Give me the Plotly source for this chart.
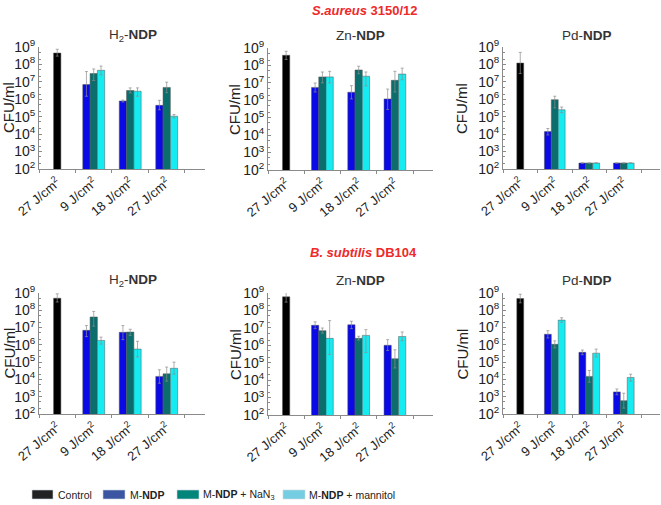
import plotly.graph_objects as go

# ---------------- data ----------------
groups = ["27 J/cm<sup>2</sup>", "9 J/cm<sup>2</sup>", "18 J/cm<sup>2</sup>", "27 J/cm<sup>2</sup>"]
panel_titles = ["H<sub>2</sub>-<b>NDP</b>", "Zn-<b>NDP</b>", "Pd-<b>NDP</b>",
                "H<sub>2</sub>-<b>NDP</b>", "Zn-<b>NDP</b>", "Pd-<b>NDP</b>"]
series_names = ["Control", "M-<b>NDP</b>", "M-<b>NDP</b> + NaN<sub>3</sub>", "M-<b>NDP</b> + mannitol"]
y_title = "CFU/ml"

# S. aureus 3150/12
sa_h2_control = [4.5e8]; sa_h2_control_hi = [7.4e8]; sa_h2_control_lo = [3.0e8]
sa_h2_m = [7e6, 8e5, 4.5e5];   sa_h2_m_hi = [3.9e7, 9e5, 8.7e5];  sa_h2_m_lo = [1.5e6, 7e5, 2.5e5]
sa_h2_na = [3e7, 3.2e6, 4.8e6]; sa_h2_na_hi = [5.5e7, 4.5e6, 9.6e6]; sa_h2_na_lo = [1.2e7, 2.3e6, 2.4e6]
sa_h2_ma = [4.6e7, 2.9e6, 1.07e5]; sa_h2_ma_hi = [8e7, 4.5e6, 1.35e5]; sa_h2_ma_lo = [2.5e7, 1.5e6, 8.5e4]

sa_zn_control = [3.8e8]; sa_zn_control_hi = [6.5e8]; sa_zn_control_lo = [2.2e8]
sa_zn_m = [5.5e6, 2.9e6, 1.2e6];  sa_zn_m_hi = [9.8e6, 6.9e6, 4.4e6];  sa_zn_m_lo = [3e6, 1.2e6, 3e5]
sa_zn_na = [2.2e7, 5.5e7, 1.4e7]; sa_zn_na_hi = [4.2e7, 9e7, 4.6e7]; sa_zn_na_lo = [1e7, 3.3e7, 3e6]
sa_zn_ma = [2.2e7, 2.4e7, 3.2e7]; sa_zn_ma_hi = [4.6e7, 4.2e7, 7e7]; sa_zn_ma_lo = [1e7, 6.6e6, 1.5e7]

sa_pd_control = [1.2e8]; sa_pd_control_hi = [4.9e8]; sa_pd_control_lo = [3e7]
sa_pd_m = [1.4e4, 220, 220];    sa_pd_m_hi = [2.1e4, 220, 220];    sa_pd_m_lo = [9e3, 220, 220]
sa_pd_na = [9.5e5, 220, 220];   sa_pd_na_hi = [1.5e6, 220, 220];   sa_pd_na_lo = [3.2e5, 220, 220]
sa_pd_ma = [2.5e5, 220, 220];   sa_pd_ma_hi = [3.6e5, 220, 220];   sa_pd_ma_lo = [1.7e5, 220, 220]

# B. subtilis DB104
bs_h2_control = [5e8]; bs_h2_control_hi = [8.9e8]; bs_h2_control_lo = [3e8]
bs_h2_m = [6.9e6, 5.3e6, 1.5e4];  bs_h2_m_hi = [1.3e7, 1.3e7, 3.6e4];  bs_h2_m_lo = [3e6, 2e6, 6e3]
bs_h2_na = [4.1e7, 5.5e6, 2.1e4]; bs_h2_na_hi = [8.6e7, 8e6, 5.2e4]; bs_h2_na_lo = [1.2e7, 3.5e6, 8e3]
bs_h2_ma = [1.8e6, 5.7e5, 4.4e4]; bs_h2_ma_hi = [2.8e6, 1.6e6, 1e5]; bs_h2_ma_lo = [1.1e6, 2e5, 2e4]

bs_zn_control = [6e8]; bs_zn_control_hi = [1.1e9]; bs_zn_control_lo = [3e8]
bs_zn_m = [1.4e7, 1.5e7, 1e6];    bs_zn_m_hi = [2.2e7, 2.4e7, 2.1e6];    bs_zn_m_lo = [9e6, 9e6, 5e5]
bs_zn_na = [6.9e6, 2.5e6, 1.7e5]; bs_zn_na_hi = [9.8e6, 3.3e6, 5.5e5]; bs_zn_na_lo = [5e6, 2e6, 5e4]
bs_zn_ma = [2.5e6, 3.7e6, 3.2e6]; bs_zn_ma_hi = [2.6e7, 7.9e6, 5.8e6]; bs_zn_ma_lo = [3e5, 3.9e5, 1.8e6]

bs_pd_control = [4.8e8]; bs_pd_control_hi = [8.5e8]; bs_pd_control_lo = [2.7e8]
bs_pd_m = [4.1e6, 3.7e5, 1.9e3];  bs_pd_m_hi = [6.6e6, 5e5, 2.8e3];  bs_pd_m_lo = [2.5e6, 2.7e5, 1.3e3]
bs_pd_na = [1.07e6, 1.5e4, 590];  bs_pd_na_hi = [1.7e6, 3.3e4, 1.6e3]; bs_pd_na_lo = [6.7e5, 7e3, 220]
bs_pd_ma = [2.7e7, 3.3e5, 1.3e4]; bs_pd_ma_hi = [3.7e7, 5.7e5, 2e4]; bs_pd_ma_lo = [2e7, 2e5, 8e3]

panels = [
    (sa_h2_control, sa_h2_control_hi, sa_h2_control_lo, [(sa_h2_m, sa_h2_m_hi, sa_h2_m_lo), (sa_h2_na, sa_h2_na_hi, sa_h2_na_lo), (sa_h2_ma, sa_h2_ma_hi, sa_h2_ma_lo)]),
    (sa_zn_control, sa_zn_control_hi, sa_zn_control_lo, [(sa_zn_m, sa_zn_m_hi, sa_zn_m_lo), (sa_zn_na, sa_zn_na_hi, sa_zn_na_lo), (sa_zn_ma, sa_zn_ma_hi, sa_zn_ma_lo)]),
    (sa_pd_control, sa_pd_control_hi, sa_pd_control_lo, [(sa_pd_m, sa_pd_m_hi, sa_pd_m_lo), (sa_pd_na, sa_pd_na_hi, sa_pd_na_lo), (sa_pd_ma, sa_pd_ma_hi, sa_pd_ma_lo)]),
    (bs_h2_control, bs_h2_control_hi, bs_h2_control_lo, [(bs_h2_m, bs_h2_m_hi, bs_h2_m_lo), (bs_h2_na, bs_h2_na_hi, bs_h2_na_lo), (bs_h2_ma, bs_h2_ma_hi, bs_h2_ma_lo)]),
    (bs_zn_control, bs_zn_control_hi, bs_zn_control_lo, [(bs_zn_m, bs_zn_m_hi, bs_zn_m_lo), (bs_zn_na, bs_zn_na_hi, bs_zn_na_lo), (bs_zn_ma, bs_zn_ma_hi, bs_zn_ma_lo)]),
    (bs_pd_control, bs_pd_control_hi, bs_pd_control_lo, [(bs_pd_m, bs_pd_m_hi, bs_pd_m_lo), (bs_pd_na, bs_pd_na_hi, bs_pd_na_lo), (bs_pd_ma, bs_pd_ma_hi, bs_pd_ma_lo)]),
]

y_tickvals = [1e2, 1e3, 1e4, 1e5, 1e6, 1e7, 1e8, 1e9]
y_ticktext = ["10<sup>%d</sup>" % e for e in range(2, 10)]

# ---------------- styles ----------------
bar_colors = ["#000000", "#0a0ae6", "#0b6e6c", "#14ecf2"]
legend_colors = ["#222222", "#3b55a3", "#00857b", "#74cde0"]
bar_w = 0.2
offsets = [-0.3, -0.1, 0.1]
W, H = 661, 505
# pixel boxes: (x0, x1, ytop, ybottom)
boxes = [(39, 205, 47, 169), (268, 433, 48, 170), (503, 660, 47, 169),
         (39, 205, 293, 414), (268, 433, 293, 415), (503, 660, 293, 414)]
title_pos = [(133, 36), (360, 36), (587, 36), (133, 280), (360, 280), (587, 280)]
ytitle_x = [9, 235, 462, 9, 235, 462]
# legend layout in pixels: (box x0, box x1, text x)
legend_px = [(32, 53, 56), (103, 125, 128), (177, 199, 201), (283, 305, 307)]
FONT = "Liberation Sans, Arial, sans-serif"
axis_col = "#8a8a8a"

def px(x):
    return x / W

def py(y):
    return 1 - y / H

fig = go.Figure()
layout = {}
annotations = []
shapes = []
for i, (ctrl, ctrl_hi, ctrl_lo, ser) in enumerate(panels):
    n = i + 1
    xa = "x" if n == 1 else "x%d" % n
    ya = "y" if n == 1 else "y%d" % n
    x0, x1, yt, yb = boxes[i]
    err_style = dict(type="data", symmetric=False, color="#8c8c8c", thickness=0.7, width=1.5)
    fig.add_trace(go.Bar(
        x=[0], y=ctrl, width=bar_w, marker=dict(color=bar_colors[0], line=dict(color="#555", width=0.5)),
        error_y=dict(array=[h - v for h, v in zip(ctrl_hi, ctrl)],
                     arrayminus=[v - l for v, l in zip(ctrl, ctrl_lo)], **err_style),
        xaxis=xa, yaxis=ya, showlegend=False, name=series_names[0]))
    for k, (vals, hi, lo) in enumerate(ser):
        fig.add_trace(go.Bar(
            x=[1, 2, 3], y=vals, width=bar_w, offset=offsets[k],
            marker=dict(color=bar_colors[k + 1], line=dict(color="#555", width=0.5)),
            error_y=dict(array=[h - v for h, v in zip(hi, vals)],
                         arrayminus=[v - l for v, l in zip(vals, lo)], **err_style),
            xaxis=xa, yaxis=ya, showlegend=False, name=series_names[k + 1]))
    layout["xaxis" if n == 1 else "xaxis%d" % n] = dict(
        domain=[px(x0), px(x1)], anchor=ya, range=[-0.5, 4.05], automargin=False,
        tickvals=[0, 1, 2, 3], ticktext=groups, tickangle=-40,
        showline=True, linecolor=axis_col, linewidth=1, ticks="", ticklen=3,
        minor=dict(tick0=0.5, dtick=1, ticks="outside", ticklen=3, tickcolor=axis_col, showgrid=False),
        showgrid=False, zeroline=False,
        tickfont=dict(family=FONT, size=13, color="#222"))
    layout["yaxis" if n == 1 else "yaxis%d" % n] = dict(
        domain=[py(yb), py(yt)], anchor=xa, type="log", range=[2, 9], automargin=False,
        tickvals=y_tickvals, ticktext=y_ticktext,
        showline=True, linecolor=axis_col, linewidth=1, ticks="inside", ticklen=3,
        tickcolor=axis_col, showgrid=False, zeroline=False,
        minor=dict(ticks="inside", ticklen=2, tickcolor=axis_col, showgrid=False),
        tickfont=dict(family=FONT, size=14, color="#222"))
    tx, ty = title_pos[i]
    annotations.append(dict(text=panel_titles[i], xref="paper", yref="paper",
                            x=px(tx), y=py(ty), xanchor="center", yanchor="middle", showarrow=False,
                            font=dict(family=FONT, size=13.5, color="#333")))
    annotations.append(dict(text=y_title, xref="paper", yref="paper", textangle=-90,
                            x=px(ytitle_x[i]), y=py((yt + yb) / 2), xanchor="center", yanchor="middle",
                            showarrow=False, font=dict(family=FONT, size=15, color="#222")))

annotations.append(dict(text="<b><i>S.aureus</i> 3150/12</b>", xref="paper", yref="paper",
                        x=px(365), y=py(10), xanchor="center", yanchor="middle", showarrow=False,
                        font=dict(family=FONT, size=13, color="#ee2a2a")))
annotations.append(dict(text="<b><i>B. subtilis</i> DB104</b>", xref="paper", yref="paper",
                        x=px(363), y=py(252), xanchor="center", yanchor="middle", showarrow=False,
                        font=dict(family=FONT, size=13, color="#ee2a2a")))

# legend (swatches + labels)
for name, col, (bx0, bx1, tx) in zip(series_names, legend_colors, legend_px):
    shapes.append(dict(type="rect", xref="paper", yref="paper",
                       x0=px(bx0), x1=px(bx1), y0=py(499), y1=py(490),
                       fillcolor=col, line=dict(color="#cfd8e0", width=0.6)))
    annotations.append(dict(text=name, xref="paper", yref="paper", x=px(tx), y=py(494.5),
                            xanchor="left", yanchor="middle", showarrow=False,
                            font=dict(family=FONT, size=10.5, color="#222")))

fig.update_layout(
    width=W, height=H, margin=dict(l=0, r=0, t=0, b=0, autoexpand=False),
    plot_bgcolor="white", paper_bgcolor="white", barmode="overlay", showlegend=False,
    annotations=annotations, shapes=shapes,
    **layout)

fig.write_html("out.html", config={"displayModeBar": False},
               post_script="document.body.style.margin='0px';")
